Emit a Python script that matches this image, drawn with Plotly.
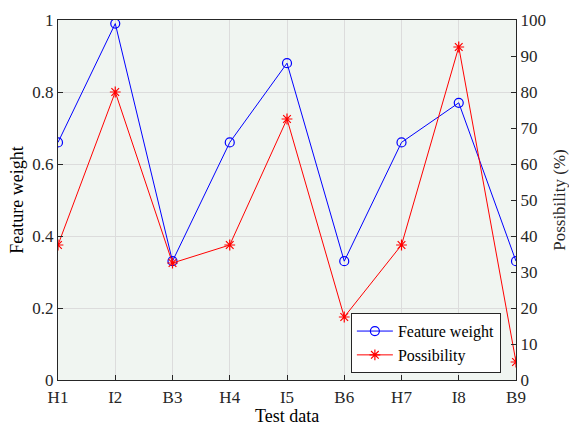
import plotly.graph_objects as go

categories = ["H1", "I2", "B3", "H4", "I5", "B6", "H7", "I8", "B9"]
feature_weight = [0.66, 0.99, 0.33, 0.66, 0.88, 0.33, 0.66, 0.77, 0.33]
possibility = [37.5, 80, 32.5, 37.5, 72.5, 17.5, 37.5, 92.5, 5]

FONT = "'Liberation Serif', 'Times New Roman', serif"
AX = "#262626"

fig = go.Figure()
fig.add_trace(go.Scatter(
    x=categories, y=feature_weight, name="Feature weight",
    mode="lines+markers",
    line=dict(color="#0000ff", width=1),
    marker=dict(symbol="circle-open", size=9, color="#0000ff", line=dict(width=1.2)),
))
fig.add_trace(go.Scatter(
    x=categories, y=possibility, name="Possibility", yaxis="y2",
    mode="lines+markers",
    line=dict(color="#ff0000", width=1),
    marker=dict(symbol="asterisk-open", size=9, color="#ff0000", line=dict(width=1.2, color="#ff0000")),
))

fig.update_layout(
    width=569, height=425,
    margin=dict(l=58, r=53, t=20, b=45),
    paper_bgcolor="white",
    plot_bgcolor="#f0f5f1",
    font=dict(family=FONT, size=17, color=AX),
    showlegend=True,
    legend=dict(
        x=0.967, y=0.019, xanchor="right", yanchor="bottom",
        bgcolor="white", bordercolor=AX, borderwidth=1,
        font=dict(family=FONT, size=16, color="#000000"),
        tracegroupgap=0, itemwidth=36,
    ),
    xaxis=dict(
        type="category", range=[0, 8], automargin=False,
        showgrid=True, gridcolor="#dcdcdc", gridwidth=1,
        ticks="inside", ticklen=5, tickcolor=AX,
        showline=True, linecolor=AX, linewidth=1, mirror=True,
        tickfont=dict(family=FONT, size=17, color=AX), zeroline=False,
        ticklabelstandoff=2,
    ),
    yaxis=dict(
        range=[0, 1], dtick=0.2, tickformat="~g", automargin=False,
        title=dict(text="Feature weight", font=dict(family=FONT, size=18, color="#000"), standoff=4),
        showgrid=True, gridcolor="#dcdcdc", gridwidth=1,
        ticks="inside", ticklen=5, tickcolor=AX,
        showline=True, linecolor=AX, linewidth=1,
        tickfont=dict(family=FONT, size=17, color=AX), zeroline=False,
    ),
    yaxis2=dict(
        range=[0, 100], dtick=10, overlaying="y", side="right", automargin=False,
        title=dict(text="Possibility (%)", font=dict(family=FONT, size=17, color=AX), standoff=8),
        showgrid=False,
        ticks="inside", ticklen=5, tickcolor=AX,
        showline=True, linecolor=AX, linewidth=1,
        tickfont=dict(family=FONT, size=17, color=AX), zeroline=False,
    ),
    annotations=[dict(
        text="Test data", xref="paper", yref="paper", x=0.5, y=0,
        xanchor="center", yanchor="middle", yshift=-36, showarrow=False,
        font=dict(family=FONT, size=18, color="#000"),
    )],
)

fig.write_html("out.html")
